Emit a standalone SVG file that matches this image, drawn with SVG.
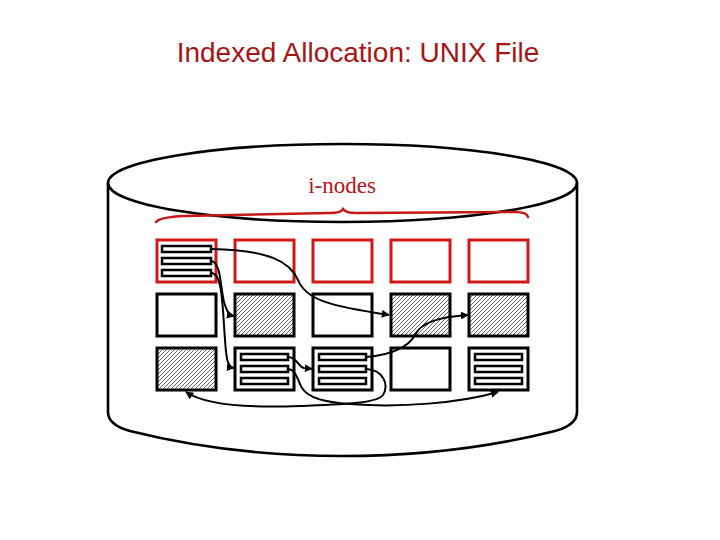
<svg xmlns="http://www.w3.org/2000/svg" width="720" height="540" viewBox="0 0 720 540">
<style>
.title{font-family:"Liberation Sans",Arial,sans-serif;font-size:28px;fill:#a81414;text-anchor:middle}
.lbl{font-family:"Liberation Serif","Times New Roman",serif;font-size:23px;fill:#b81414;text-anchor:middle}
.cyl{fill:none;stroke:#000;stroke-width:2.6}
.red{fill:#fff;stroke:#d01818;stroke-width:3}
.blk{fill:#fff;stroke:#000;stroke-width:3}
.hat{fill:url(#hatch);stroke:#000;stroke-width:3}
.bar{fill:#fff;stroke:#000;stroke-width:2.5}
.con{fill:none;stroke:#000;stroke-width:2;marker-end:url(#ah)}
.brace{fill:none;stroke:#c81818;stroke-width:2.5;stroke-linecap:round}
</style>
<defs>
<pattern id="hatch" width="4" height="4" patternUnits="userSpaceOnUse">
<rect width="4" height="4" fill="#fff"/>
<path d="M-1,1 l2,-2 M0,4 l4,-4 M3,5 l2,-2" stroke="#222" stroke-width="0.7"/>
</pattern>
<marker id="ah" viewBox="0 0 10 10" refX="9" refY="5" markerWidth="8" markerHeight="8" markerUnits="userSpaceOnUse" orient="auto">
<path d="M0,0 L10,5 L0,10 z" fill="#000"/>
</marker>
</defs>
<text class="title" x="358" y="62">Indexed Allocation: UNIX File</text>
<g id="disk">
<ellipse class="cyl" cx="342.5" cy="183" rx="234.5" ry="39"/>
<path class="cyl" d="M108,183 L108,412 Q108,425 130,431 Q230,456 342,456 Q455,456 555,431 Q577,425 577,412 L577,183"/>
</g>
<g id="inodes-label">
<text class="lbl" x="342" y="193">i-nodes</text>
<path class="brace" d="M156,222 Q160,217 185,216 L330,213 Q341,213 343,209 Q346,213 356,213 L515,212 Q527,212 528,217"/>
</g>
<g id="r1c1"><rect class="red" x="157" y="240" width="59" height="42"/>
<rect class="bar" x="162" y="246" width="49" height="6"/><rect class="bar" x="162" y="258" width="49" height="6"/><rect class="bar" x="162" y="270" width="49" height="6"/></g>
<g id="r1c2"><rect class="red" x="235" y="240" width="59" height="42"/></g>
<g id="r1c3"><rect class="red" x="313" y="240" width="59" height="42"/></g>
<g id="r1c4"><rect class="red" x="391" y="240" width="59" height="42"/></g>
<g id="r1c5"><rect class="red" x="469" y="240" width="59" height="42"/></g>
<g id="r2c1"><rect class="blk" x="157" y="294" width="59" height="42"/></g>
<g id="r2c2"><rect class="hat" x="235" y="294" width="59" height="42"/></g>
<g id="r2c3"><rect class="blk" x="313" y="294" width="59" height="42"/></g>
<g id="r2c4"><rect class="hat" x="391" y="294" width="59" height="42"/></g>
<g id="r2c5"><rect class="hat" x="469" y="294" width="59" height="42"/></g>
<g id="r3c1"><rect class="hat" x="157" y="348" width="59" height="42"/></g>
<g id="r3c2"><rect class="blk" x="235" y="348" width="59" height="42"/>
<rect class="bar" x="241" y="354" width="47" height="6"/><rect class="bar" x="241" y="366" width="47" height="6"/><rect class="bar" x="241" y="378" width="47" height="6"/></g>
<g id="r3c3"><rect class="blk" x="313" y="348" width="59" height="42"/>
<rect class="bar" x="319" y="354" width="47" height="6"/><rect class="bar" x="319" y="366" width="47" height="6"/><rect class="bar" x="319" y="378" width="47" height="6"/></g>
<g id="r3c4"><rect class="blk" x="391" y="348" width="59" height="42"/></g>
<g id="r3c5"><rect class="blk" x="469" y="348" width="59" height="42"/>
<rect class="bar" x="475" y="354" width="47" height="6"/><rect class="bar" x="475" y="366" width="47" height="6"/><rect class="bar" x="475" y="378" width="47" height="6"/></g>
<g id="connectors">
<path class="con" d="M211,249 C270,250 290,262 298,280 C306,300 330,306 389,315"/>
<path class="con" d="M211,261 C221,262 220,285 224,302 C227,312 229,315 234,316"/>
<path class="con" d="M211,273 C221,273 222,295 224,325 C226,355 226,367 234,368"/>
<path class="con" d="M288,357 C297,357 298,367 304,368 L312,369"/>
<path class="con" d="M366,357 C393,355 409,346 415,335 C421,322 440,317 468,315"/>
<path class="con" d="M288,369 C297,370 297,380 302,388 C309,399 326,402 350,404 C400,408 460,403 498,392"/>
<path class="con" d="M366,369 C384,370 389,385 383,395 C376,404 340,404 300,406 C250,408 205,405 186,392"/>
</g>
</svg>
